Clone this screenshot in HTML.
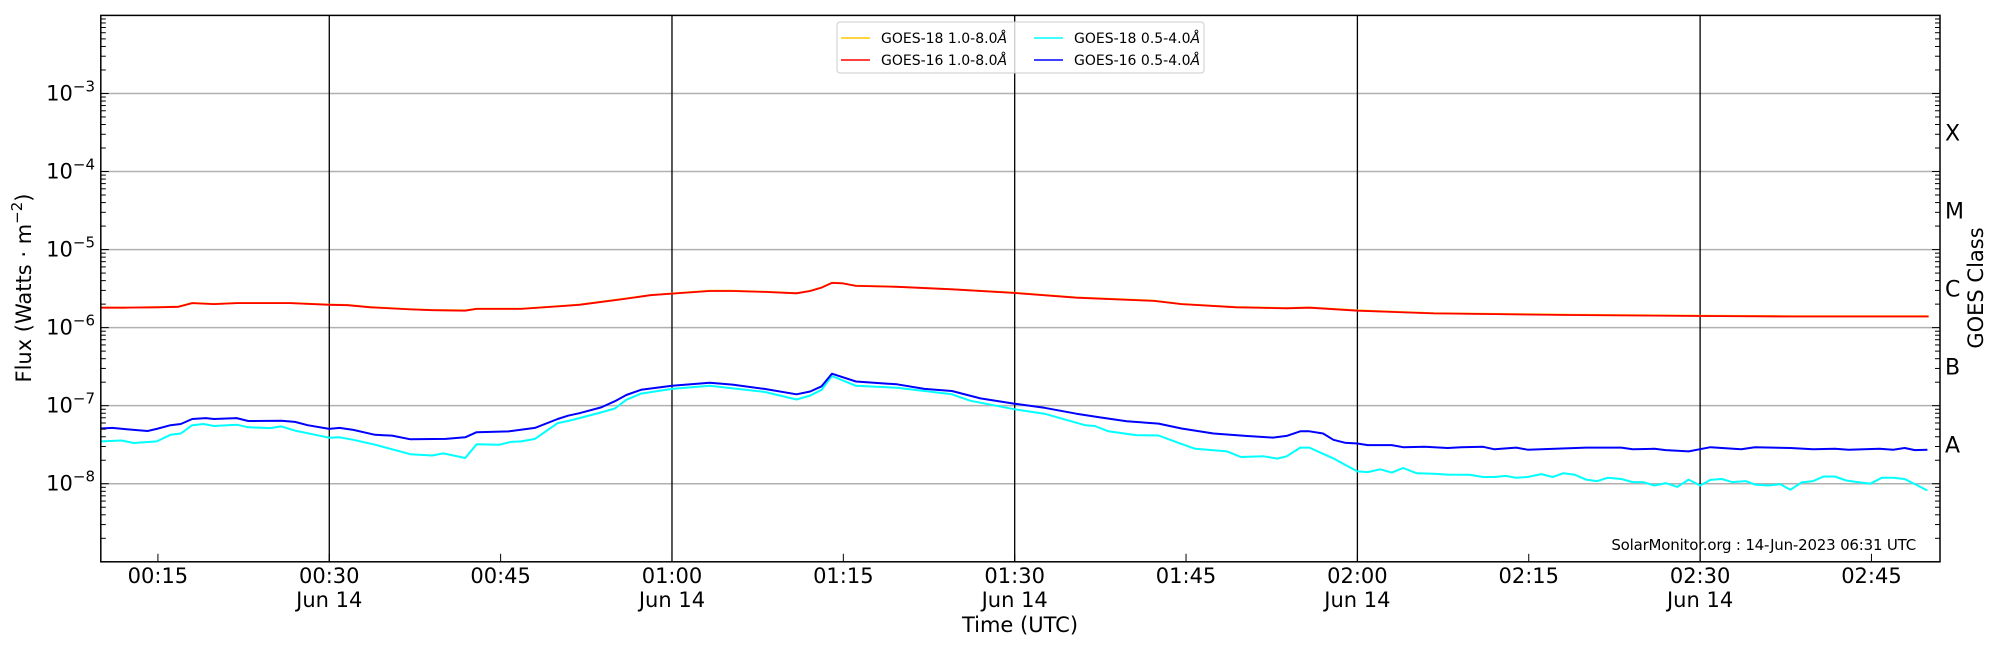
<!DOCTYPE html>
<html><head><meta charset="utf-8">
<style>
html,body{margin:0;padding:0;background:#fff;}
svg{display:block;font-family:"DejaVu Sans","Liberation Sans",sans-serif;}
</style></head>
<body>
<svg id="chart" width="2000" height="650" viewBox="0 0 2000 650" xmlns="http://www.w3.org/2000/svg"></svg>
<script>
// ---- data (minutes after 00:00 UTC, flux in W/m^2) ----
const xTickMinutes = [15,30,45,60,75,90,105,120,135,150,165];
const xTickLabels = ["00:15","00:30","00:45","01:00","01:15","01:30","01:45","02:00","02:15","02:30","02:45"];
const dayLineMinutes = [30,60,90,120,150];
const yDecades = [-8,-7,-6,-5,-4,-3];
const classLabels = ["X","M","C","B","A"];
const classLog = [-3.5,-4.5,-5.5,-6.5,-7.5];

const g16LongT = [10,12,15,16.8,18,19.9,21.9,26.6,30,31.6,33.6,37.1,39,41.9,42.9,46.8,50,51.9,55.8,58.1,60,63.3,65.3,68.1,70.9,72.1,73.1,74,74.9,76.1,79.7,84.5,90,95.4,102.2,104.6,109.4,113.8,115.8,120,126.7,138.4,150,157.9,170];
const g16LongV = [1.80e-6,1.80e-6,1.82e-6,1.85e-6,2.06e-6,2.0e-6,2.06e-6,2.06e-6,1.96e-6,1.94e-6,1.82e-6,1.71e-6,1.67e-6,1.65e-6,1.74e-6,1.74e-6,1.87e-6,1.96e-6,2.33e-6,2.6e-6,2.73e-6,2.95e-6,2.95e-6,2.87e-6,2.75e-6,2.95e-6,3.26e-6,3.74e-6,3.7e-6,3.42e-6,3.33e-6,3.1e-6,2.78e-6,2.42e-6,2.2e-6,2.0e-6,1.82e-6,1.77e-6,1.8e-6,1.65e-6,1.52e-6,1.45e-6,1.41e-6,1.39e-6,1.39e-6];
const g18LongT = g16LongT;
const g18LongV = [1.81e-6,1.80e-6,1.83e-6,1.86e-6,2.07e-6,2.01e-6,2.07e-6,2.07e-6,1.97e-6,1.95e-6,1.83e-6,1.72e-6,1.68e-6,1.66e-6,1.75e-6,1.75e-6,1.88e-6,1.97e-6,2.34e-6,2.61e-6,2.74e-6,2.96e-6,2.96e-6,2.88e-6,2.76e-6,2.96e-6,3.27e-6,3.75e-6,3.71e-6,3.43e-6,3.34e-6,3.11e-6,2.79e-6,2.43e-6,2.21e-6,2.01e-6,1.83e-6,1.78e-6,1.81e-6,1.66e-6,1.53e-6,1.46e-6,1.42e-6,1.40e-6,1.40e-6];

const g16ShortT = [10,11,12.9,14.1,14.9,16.1,17,18,19.2,19.9,21.9,22.9,25.8,27,28.1,30,30.9,32.1,34,35.5,37.1,40.2,41.9,42.9,45.7,48,50,50.9,51.9,53.8,55,56,57.3,60,63.3,65.3,68.1,70.9,72.1,73.1,74,76.1,79.7,82.1,84.5,87,90,92.6,95.4,97.4,99.8,102.6,104.6,107.4,110.2,112.6,113.8,115,115.8,117,117.9,118.9,120,120.9,123,124,125.9,127.9,129.1,131,132,133.9,134.9,140,143.1,144.1,146,147,149,150.9,153.6,154.8,157.9,159.9,161.8,163,165.7,166.9,167.9,168.8,169.9];
const g16ShortV = [5.1e-8,5.2e-8,4.9e-8,4.74e-8,5.04e-8,5.62e-8,5.83e-8,6.76e-8,6.93e-8,6.76e-8,6.93e-8,6.36e-8,6.43e-8,6.2e-8,5.62e-8,5.04e-8,5.2e-8,4.9e-8,4.24e-8,4.14e-8,3.71e-8,3.75e-8,3.94e-8,4.57e-8,4.68e-8,5.2e-8,6.76e-8,7.45e-8,8.02e-8,9.5e-8,1.14e-7,1.37e-7,1.6e-7,1.8e-7,1.97e-7,1.86e-7,1.64e-7,1.4e-7,1.52e-7,1.77e-7,2.57e-7,2.04e-7,1.88e-7,1.64e-7,1.54e-7,1.24e-7,1.06e-7,9.4e-8,7.9e-8,7.1e-8,6.3e-8,5.9e-8,5.1e-8,4.4e-8,4.1e-8,3.9e-8,4.1e-8,4.7e-8,4.7e-8,4.4e-8,3.66e-8,3.36e-8,3.28e-8,3.13e-8,3.13e-8,2.94e-8,2.97e-8,2.87e-8,2.94e-8,2.97e-8,2.76e-8,2.9e-8,2.73e-8,2.9e-8,2.9e-8,2.76e-8,2.8e-8,2.7e-8,2.6e-8,2.94e-8,2.76e-8,2.94e-8,2.87e-8,2.76e-8,2.8e-8,2.73e-8,2.8e-8,2.73e-8,2.87e-8,2.7e-8,2.73e-8];

const g18ShortT = [10,11.8,12.9,14.9,16.1,17,18,19,19.9,21.9,22.9,24.8,25.8,27,30,30.9,32.1,34,37.1,39,40,41.9,42.9,44.9,45.9,46.8,48,50,50.9,51.9,53.8,55,56,57.3,60,63.3,68.1,70.9,72.1,73.1,74,76.1,79.7,84.5,86.1,90,92.6,96.2,97,98.2,100.6,102.6,104.2,105.8,108.6,109.8,111.8,113,113.8,115,115.8,117,117.9,118.9,120,120.9,122,123,124,125.2,126.7,127.9,129.8,131,132,133,133.9,134.9,136.1,137.1,138,139,140,141,141.9,143.1,144.1,145,146,147,148,149,150,150.9,151.9,152.8,154,154.8,156,157,157.9,158.9,159.9,160.8,161.8,162.8,163.8,164.9,165.9,166.9,167.9,168.8,169.9];
const g18ShortV = [3.49e-8,3.58e-8,3.33e-8,3.49e-8,4.24e-8,4.4e-8,5.62e-8,5.83e-8,5.49e-8,5.7e-8,5.29e-8,5.16e-8,5.42e-8,4.79e-8,3.89e-8,3.94e-8,3.66e-8,3.16e-8,2.39e-8,2.3e-8,2.45e-8,2.14e-8,3.2e-8,3.16e-8,3.44e-8,3.49e-8,3.75e-8,5.98e-8,6.36e-8,6.93e-8,8.2e-8,9.2e-8,1.19e-7,1.43e-7,1.64e-7,1.8e-7,1.5e-7,1.2e-7,1.35e-7,1.6e-7,2.4e-7,1.8e-7,1.7e-7,1.4e-7,1.16e-7,9.0e-8,7.9e-8,5.6e-8,5.5e-8,4.7e-8,4.2e-8,4.15e-8,3.4e-8,2.8e-8,2.6e-8,2.2e-8,2.25e-8,2.1e-8,2.25e-8,2.9e-8,2.9e-8,2.42e-8,2.11e-8,1.76e-8,1.44e-8,1.41e-8,1.53e-8,1.39e-8,1.59e-8,1.36e-8,1.34e-8,1.31e-8,1.30e-8,1.22e-8,1.22e-8,1.26e-8,1.19e-8,1.22e-8,1.33e-8,1.22e-8,1.36e-8,1.31e-8,1.13e-8,1.08e-8,1.19e-8,1.15e-8,1.05e-8,1.05e-8,9.5e-9,1.02e-8,9.1e-9,1.13e-8,9.5e-9,1.12e-8,1.15e-8,1.05e-8,1.08e-8,9.75e-9,9.5e-9,9.9e-9,8.4e-9,1.04e-8,1.08e-8,1.24e-8,1.24e-8,1.1e-8,1.05e-8,1.0e-8,1.19e-8,1.19e-8,1.15e-8,9.9e-9,8.2e-9];

// ---- layout ----
const L=100.8, R=1940, T=15.4, B=561.8;
const xMin=10, xMax=171, yMinLog=-9, yMaxLog=-2;
const NS="http://www.w3.org/2000/svg";
const svg=document.getElementById('chart');
function xs(t){return L+(t-xMin)*(R-L)/(xMax-xMin);}
function ysLog(l){return B-(l-yMinLog)*(B-T)/(yMaxLog-yMinLog);}
function ys(v){return ysLog(Math.log10(v));}
function mk(tag,attrs,parent){const e=document.createElementNS(NS,tag);for(const k in attrs)e.setAttribute(k,attrs[k]);(parent||svg).appendChild(e);return e;}

// gridlines
const grid=mk('g',{});


for(let d=-8; d<=-3; d++){
  const ln=mk('line',{x1:L,x2:R,y1:ys(Math.pow(10,d)),y2:ys(Math.pow(10,d)),stroke:'#b0b0b0','stroke-width':1.5},grid);
  
  
}
const vg=mk('g',{});


dayLineMinutes.forEach(m=>{
  const ln=mk('line',{x1:xs(m),x2:xs(m),y1:T,y2:B,stroke:'#000','stroke-width':1.3},vg);
  
  
});

// series
function series(T_,V_,color,name,w){
  const pts=T_.map((t,i)=>xs(t).toFixed(1)+','+ys(V_[i]).toFixed(1)).join(' ');
  const p=mk('polyline',{points:pts,fill:'none',stroke:color,'stroke-width':w,'stroke-linejoin':'round'});
  
  
}
series(g18LongT,g18LongV,'#ffc800','goes18-long-line',2);
series(g16LongT,g16LongV,'#ff0000','goes16-long-line',1.8);
series(g18ShortT,g18ShortV,'#00ffff','goes18-short-line',2);
series(g16ShortT,g16ShortV,'#0000ff','goes16-short-line',2);

// axes frame
const fr=mk('rect',{x:L,y:T,width:R-L,height:B-T,fill:'none',stroke:'#000','stroke-width':1.5});



// y ticks (left and right, inward)
const tk=mk('g',{stroke:'#000','stroke-width':1});


for(let d=-9; d<-2; d++){
  for(let k=1;k<10;k++){
    const y=ys(k*Math.pow(10,d));
    if(y<T||y>B) continue;
    const len=k===1?8:5;
    mk('line',{x1:L,x2:L+len,y1:y,y2:y},tk);
    mk('line',{x1:R,x2:R-len,y1:y,y2:y},tk);
  }
}
// y tick labels
yDecades.forEach(d=>{
  const y=ys(Math.pow(10,d));
  const t=mk('text',{x:95,y:y+7,'text-anchor':'end','font-size':21,fill:'#000'});
  
  
  const a=document.createElementNS(NS,'tspan');a.textContent='10';t.appendChild(a);
  const b=document.createElementNS(NS,'tspan');b.setAttribute('dy','-9');b.setAttribute('font-size','15');b.textContent='\u2212'+(-d);t.appendChild(b);
});
// class labels
classLabels.forEach((c,i)=>{
  const t=mk('text',{x:1945,y:ysLog(classLog[i])+8,'font-size':22,fill:'#000'});
  t.textContent=c;
  
  
});
// x ticks and labels
xTickMinutes.forEach((m,i)=>{
  const x=xs(m);
  const l=mk('line',{x1:x,x2:x,y1:B,y2:B-8,stroke:'#000','stroke-width':1});
  
  
  const t=mk('text',{x:x,y:583,'text-anchor':'middle','font-size':21,fill:'#000'});
  t.textContent=xTickLabels[i];
  
  
  if(dayLineMinutes.indexOf(m)>=0){
    const d=mk('text',{x:x,y:607,'text-anchor':'middle','font-size':21,fill:'#000'});
    d.textContent='Jun 14';
    
    
  }
});
</script>
<svg style="position:absolute;left:0;top:0" width="2000" height="650">
  <text x="1020" y="632" text-anchor="middle" font-size="21" font-family="DejaVu Sans, Liberation Sans, sans-serif">Time (UTC)</text>
  <text transform="translate(31,288) rotate(-90)" text-anchor="middle" font-size="21" font-family="DejaVu Sans, Liberation Sans, sans-serif">Flux (Watts · m<tspan dy="-9" font-size="15">−2</tspan><tspan dy="9">)</tspan></text>
  <text transform="translate(1983,288) rotate(-90)" text-anchor="middle" font-size="21" font-family="DejaVu Sans, Liberation Sans, sans-serif">GOES Class</text>
  <text x="1916" y="550" text-anchor="end" font-size="15" letter-spacing="-0.2" font-family="DejaVu Sans, Liberation Sans, sans-serif">SolarMonitor.org : 14-Jun-2023 06:31 UTC</text>
  <g font-family="DejaVu Sans, Liberation Sans, sans-serif" font-size="14">
    <rect x="837" y="22" width="367" height="51" rx="3" fill="#fff" fill-opacity="0.8" stroke="#cccccc" stroke-width="1"/>
    <line x1="841" x2="870" y1="38" y2="38" stroke="#ffc800" stroke-width="1.5"/>
    <text x="881" y="43">GOES-18 1.0-8.0<tspan font-style="italic">Å</tspan></text>
    <line x1="841" x2="870" y1="60" y2="60" stroke="#ff0000" stroke-width="1.5"/>
    <text x="881" y="65">GOES-16 1.0-8.0<tspan font-style="italic">Å</tspan></text>
    <line x1="1034" x2="1063" y1="38" y2="38" stroke="#00ffff" stroke-width="1.5"/>
    <text x="1074" y="43">GOES-18 0.5-4.0<tspan font-style="italic">Å</tspan></text>
    <line x1="1034" x2="1063" y1="60" y2="60" stroke="#0000ff" stroke-width="1.5"/>
    <text x="1074" y="65">GOES-16 0.5-4.0<tspan font-style="italic">Å</tspan></text>
  </g>
</svg>
</body></html>
